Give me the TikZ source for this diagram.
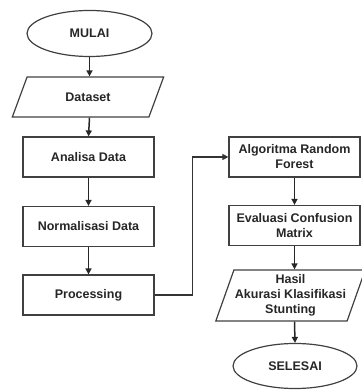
\documentclass[tikz,border=0pt]{standalone}
\usepackage{fontspec}
\setmainfont{Liberation Sans}
\usetikzlibrary{shapes.geometric,arrows.meta}
\begin{document}
\begin{tikzpicture}[x=1pt,y=1pt,
  every node/.style={font=\fontsize{12.5}{15}\selectfont\bfseries, text=black!85, align=center},
  box/.style={draw=black!75, line width=1.2pt, rectangle, minimum width=131pt, minimum height=40pt, inner sep=1pt},
  term/.style={draw=black!75, line width=1.2pt, ellipse, minimum width=125pt, minimum height=46pt, inner sep=1pt},
  io/.style={draw=black!75, line width=1.2pt, trapezium, trapezium stretches=true, inner sep=1pt},
  arr/.style={draw=black!85, line width=1.5pt, -{Triangle[length=6pt,width=6pt]}},
  arrthin/.style={draw=black!80, line width=1.1pt, -{Triangle[length=6pt,width=6pt]}}
]
\useasboundingbox (0,0) rectangle (361,390);
\node[term] (mulai) at (89.5,356.5) {MULAI};
\node[io, trapezium left angle=62, trapezium right angle=118, minimum width=152pt, minimum height=40pt] (dataset) at (88,293) {Dataset};
\node[box] (analisa) at (88.5,233) {Analisa Data};
\node[box] (norm) at (88.5,163.5) {Normalisasi Data};
\node[box] (proc) at (88.5,95) {Processing};
\node[box] (algo) at (294.5,233) {Algoritma Random\\Forest};
\node[box] (eval) at (294.5,164.5) {Evaluasi Confusion\\Matrix};
\node[io, trapezium left angle=67.5, trapezium right angle=112.5, minimum width=143pt, minimum height=51pt] (hasil) at (290.5,94.5) {Hasil\\Akurasi Klasifikasi\\Stunting};
\node[term, minimum width=124pt, minimum height=45pt] (selesai) at (295,24) {SELESAI};
\draw[arr] (mulai.south) -- (mulai.south |- dataset.north);
\draw[arr] (mulai.south |- dataset.south) -- (analisa.north);
\draw[arr] (analisa.south) -- (norm.north);
\draw[arr] (norm.south) -- (proc.north);
\draw[arrthin] (proc.east) -- ++(38,0) |- (algo.west);
\draw[arr] (algo.south) -- (eval.north);
\draw[arr] (eval.south) -- (eval.south |- hasil.north);
\draw[arr] (eval.south |- hasil.south) -- (selesai.north);
\end{tikzpicture}
\end{document}
